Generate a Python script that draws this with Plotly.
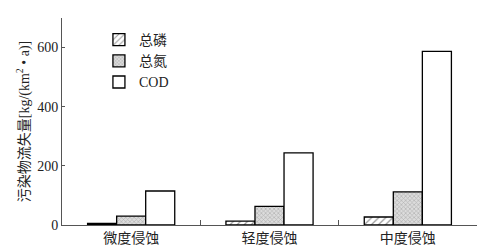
import plotly.graph_objects as go

categories = ["微度侵蚀", "轻度侵蚀", "中度侵蚀"]
series_names = ["总磷", "总氮", "COD"]
tp = [5, 13, 27]
tn = [30, 63, 112]
cod = [115, 244, 587]
y_tickvals = [0, 200, 400, 600]
y_ticktext = ["0", "200", "400", "600"]

FONT = "Liberation Serif, Noto Sans CJK SC, serif"

fig = go.Figure()
fig.add_trace(go.Bar(
    x=categories, y=tp, name=series_names[0],
    marker=dict(color="white", line=dict(color="black", width=1.3),
                pattern=dict(shape="/", fgcolor="#333333", bgcolor="white", size=5, solidity=0.25)),
))
fig.add_trace(go.Bar(
    x=categories, y=tn, name=series_names[1],
    marker=dict(color="#cfcfcf", line=dict(color="black", width=1.3),
                pattern=dict(shape="x", fgcolor="#8a8a8a", bgcolor="#dcdcdc", size=3, solidity=0.4)),
))
fig.add_trace(go.Bar(
    x=categories, y=cod, name=series_names[2],
    marker=dict(color="white", line=dict(color="black", width=1.3)),
))

fig.update_layout(
    width=497, height=247,
    margin=dict(l=62, r=20, t=18, b=22),
    paper_bgcolor="white", plot_bgcolor="white",
    barmode="group", bargap=0.37, bargroupgap=0,
    font=dict(family=FONT, size=13, color="#222"),
    showlegend=True,
    legend=dict(x=0.089, y=0.971, xanchor="left", yanchor="top",
                bgcolor="rgba(0,0,0,0)", font=dict(size=14, family=FONT),
                itemwidth=30),
)
fig.update_xaxes(
    automargin=False,
    showline=True, linecolor="#555", linewidth=1,
    ticks="inside", tickson="boundaries", ticklen=5, tickcolor="#555",
    tickfont=dict(size=14, family=FONT), showgrid=False,
)
fig.update_yaxes(
    automargin=False,
    range=[0, 700], tickvals=y_tickvals, ticktext=y_ticktext,
    showline=True, linecolor="#555", linewidth=1,
    ticks="inside", ticklen=3, tickcolor="#555", showgrid=False, zeroline=False,
    tickfont=dict(size=14, family=FONT),
    title=dict(text="污染物流失量[kg/(km<sup>2</sup> • a)]", font=dict(size=14, family=FONT), standoff=4),
)

fig.write_html("out.html")
